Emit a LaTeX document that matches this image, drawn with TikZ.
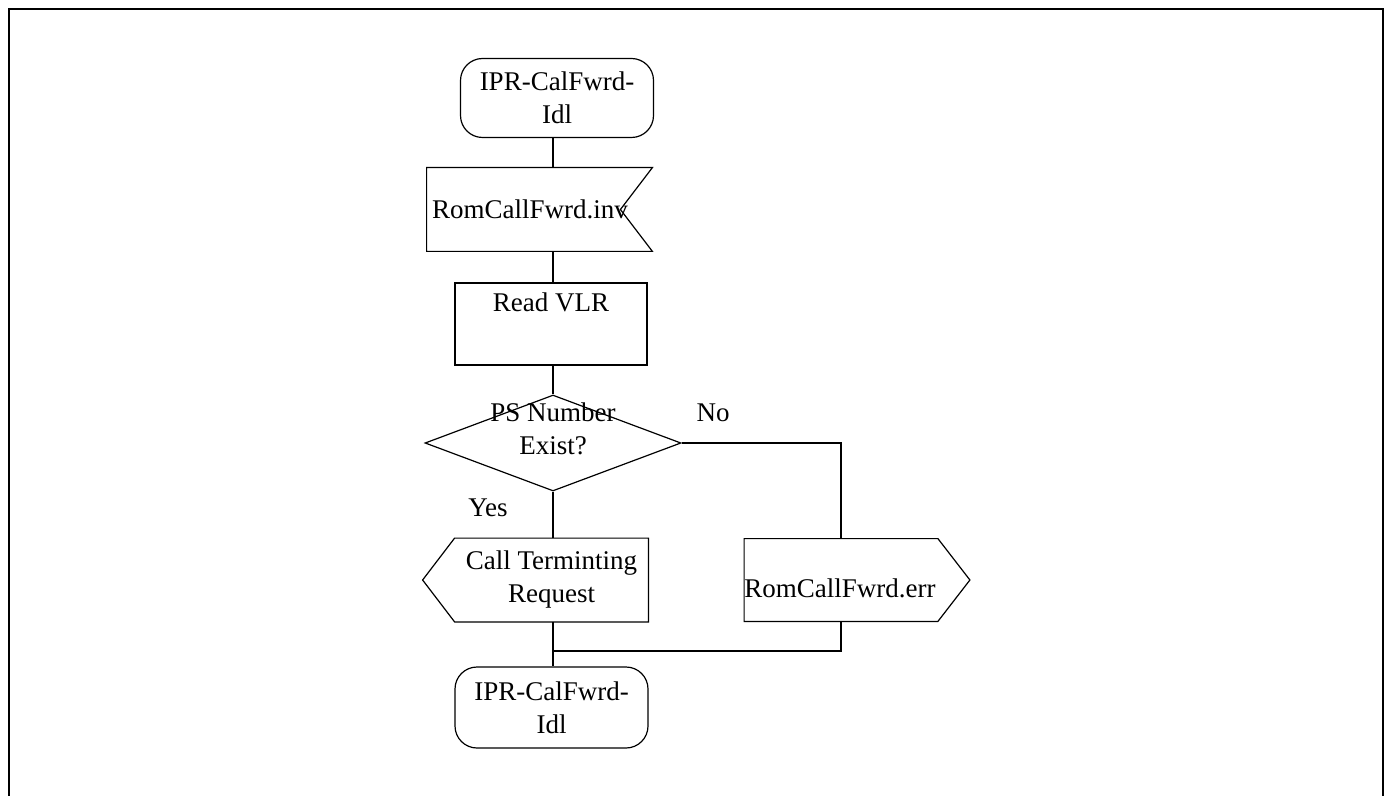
\documentclass[tikz,border=0pt]{standalone}
\usepackage{fontspec}
\setmainfont{Liberation Serif}
\usepackage{tikz}
\usetikzlibrary{shapes.geometric, positioning}

\tikzset{
  term/.style={draw, rounded corners=11pt, align=center, minimum width=96.5pt, minimum height=39.5pt, line width=0.6pt},
  proc/.style={draw, rectangle, minimum width=96pt, minimum height=41pt, line width=0.6pt},
  body/.style={rectangle, minimum width=96.5pt, minimum height=41.5pt, align=center},
  decide/.style={draw, diamond, minimum width=128pt, minimum height=48pt, inner sep=0pt, line width=0.6pt},
  conn/.style={line width=0.6pt}
}

\begin{document}
\begin{tikzpicture}[x=0.5pt, y=-0.5pt, font=\fontsize{13.5}{16.5}\selectfont]
\useasboundingbox (0,0) rectangle (1390,796);

% Frame
\draw[line width=1.3pt] (9,800) -- (9,9) -- (1383,9) -- (1383,800);

% Start state
\node[term] (idl1) at (557,98) {IPR-CalFwrd-\\Idl};

% Input signal
\node[body, minimum width=112.5pt, text width=107.5pt, align=left, inner sep=2.5pt] (inv) at (539.5,209.5) {RomCallFwrd.inv};
\draw[conn] (inv.north west) -- (inv.north east) -- ([xshift=-16pt]inv.east) -- (inv.south east) -- (inv.south west) -- cycle;

% Task
\node[proc] (read) at (551,324) {};
\node[anchor=north, inner sep=2pt] (readtxt) at ([yshift=-3pt]read.north) {Read VLR};

% Decision
\node[decide] (dec) at (553,443) {};
\node[align=center] (dectxt) at (553,429) {PS Number\\Exist?};
\node (yes) at (488,508) {Yes};
\node (no) at (713,413) {No};

% Outputs
\node[body] (call) at (551.5,580) {Call Terminting\\Request};
\draw[conn] (call.north east) -- (call.north west) -- ([xshift=-16pt]call.west) -- (call.south west) -- (call.south east) -- cycle;
\node[body, minimum height=41pt, inner xsep=0pt] (err) at (841,580) {};
\node (errtxt) at (840,588) {RomCallFwrd.err};
\draw[conn] (err.north west) -- (err.north east) -- ([xshift=16pt]err.east) -- (err.south east) -- (err.south west) -- cycle;

% Next state
\node[term, minimum height=40.5pt] (idl2) at (551.5,707.5) {IPR-CalFwrd-\\Idl};
\coordinate (join) at (553,651);

% Connectors
\draw[conn] (idl1.south -| dec.north) -- (inv.north -| dec.north);
\draw[conn] (inv.south -| dec.north) -- (read.north -| dec.north);
\draw[conn] (read.south -| dec.north) -- (dec.north);
\draw[conn] (dec.south) -- (call.north -| dec.south);
\draw[conn] (dec.east) -| (err.north);
\draw[conn] (call.south -| dec.south) -- (idl2.north -| dec.south);
\draw[conn] (err.south) |- (join);
\end{tikzpicture}
\end{document}
